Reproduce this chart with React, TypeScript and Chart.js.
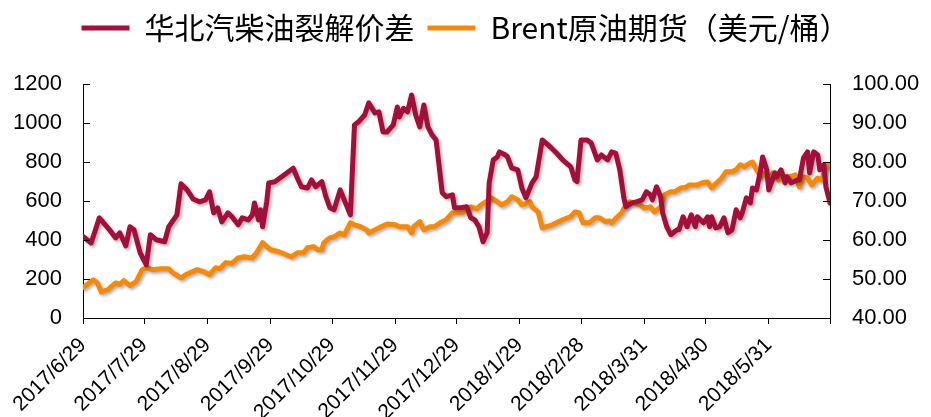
import React, { useEffect, useRef } from "react";
import { Chart, registerables } from "chart.js";

Chart.register(...registerables);

// x axis: days counted from 2017/6/29
const xTickDays = [0, 30, 61, 92, 122, 153, 183, 214, 244, 275, 305, 336, 366];
const xTickLabels = [
  "2017/6/29", "2017/7/29", "2017/8/29", "2017/9/29", "2017/10/29", "2017/11/29",
  "2017/12/29", "2018/1/29", "2018/2/28", "2018/3/31", "2018/4/30", "2018/5/31", "",
];

const crackLabel = "华北汽柴油裂解价差";
const brentLabel = "Brent原油期货（美元/桶）";

const crackDays = [
  0, 4, 8, 13, 16, 18, 21, 23, 25, 28, 31, 33, 36, 40, 42, 46, 48, 51, 54, 57, 60, 62, 64, 66, 68,
  71, 73, 76, 78, 81, 83, 84, 86, 87, 88, 90, 91, 94, 103, 105, 107, 110, 112, 114, 117, 119, 121,
  123, 126, 128, 131, 133, 135, 138, 140, 143, 145, 147, 149, 152, 154, 155, 157, 159, 161, 163,
  165, 167, 169, 171, 173, 176, 178, 181, 182, 185, 188, 190, 192, 194, 196, 198, 199, 201, 203,
  204, 207, 208, 210, 213, 215, 217, 220, 222, 225, 229, 232, 235, 239, 241, 242, 244, 247, 249,
  252, 254, 257, 259, 261, 263, 265, 266, 269, 271, 274, 276, 278, 279, 281, 283, 284, 286, 288,
  291, 292, 294, 296, 298, 300, 301, 304, 306, 307, 308, 310, 312, 314, 316, 318, 320, 322, 323,
  325, 327, 328, 330, 332, 333, 335, 336, 339, 340, 342, 344, 345, 347, 350, 351, 353, 355, 356,
  358, 360, 361, 363, 364, 366,
];
const crackValues = [
  418, 385, 514, 452, 411, 437, 370, 468, 452, 334, 273, 427, 401, 391, 468, 529, 688, 657, 610,
  596, 606, 647, 539, 565, 493, 539, 519, 478, 514, 503, 529, 590, 503, 555, 468, 596, 693, 699,
  768, 718, 673, 667, 708, 673, 699, 622, 565, 555, 657, 606, 529, 990, 1006, 1041, 1103, 1052,
  1057, 954, 954, 990, 1082, 1031, 1075, 1057, 1144, 1041, 980, 1092, 980, 939, 913, 642, 622,
  632, 565, 565, 571, 514, 503, 468, 391, 437, 693, 811, 826, 852, 836, 826, 770, 760, 667, 616,
  693, 724, 913, 877, 846, 811, 775, 708, 699, 913, 913, 897, 811, 836, 811, 852, 846, 760, 616,
  571, 590, 596, 606, 647, 632, 606, 673, 622, 539, 468, 427, 452, 452, 519, 468, 529, 468, 519,
  488, 519, 468, 519, 462, 468, 514, 437, 452, 555, 514, 539, 616, 590, 667, 657, 760, 826, 760,
  657, 744, 724, 760, 693, 724, 693, 708, 708, 821, 852, 744, 852, 836, 760, 785, 673, 590,
];

const brentDays = [
  0, 3, 5, 7, 9, 12, 16, 18, 20, 23, 26, 29, 31, 34, 38, 42, 44, 48, 51, 56, 59, 62, 65, 67, 70,
  73, 76, 79, 83, 85, 88, 90, 92, 96, 102, 105, 108, 110, 113, 115, 117, 118, 121, 123, 126, 128,
  131, 133, 136, 139, 140, 143, 146, 149, 153, 155, 159, 161, 162, 165, 167, 170, 172, 175, 178,
  181, 183, 186, 188, 190, 193, 195, 198, 200, 203, 205, 208, 210, 213, 215, 218, 219, 220, 223,
  225, 230, 235, 239, 241, 243, 245, 248, 251, 253, 256, 258, 259, 262, 264, 266, 268, 270, 273,
  275, 278, 280, 283, 285, 288, 290, 293, 295, 297, 301, 303, 306, 308, 311, 313, 315, 318, 320,
  322, 324, 327, 328, 330, 332, 333, 336, 338, 339, 341, 344, 346, 349, 351, 353, 355, 357, 360,
  362, 363, 365, 366,
];
const brentValues = [
  47.8, 49.0, 49.8, 49.0, 46.7, 47.2, 49.0, 48.6, 49.6, 48.3, 49.3, 52.4, 52.9, 52.4, 52.6, 52.6,
  51.6, 50.3, 51.3, 52.4, 51.9, 51.1, 52.9, 52.6, 54.2, 54.0, 55.4, 55.7, 55.4, 56.7, 59.3, 58.3,
  57.5, 57.0, 55.7, 56.7, 56.7, 58.0, 58.3, 57.5, 57.5, 59.3, 60.6, 60.8, 61.8, 61.3, 64.4, 63.9,
  63.4, 62.6, 61.8, 62.6, 63.4, 64.1, 63.9, 63.4, 63.4, 61.8, 63.4, 64.7, 62.6, 63.4, 63.4, 64.4,
  65.2, 67.0, 67.0, 67.0, 67.7, 68.5, 68.0, 69.0, 70.0, 70.8, 69.8, 69.0, 69.8, 71.1, 70.3, 69.0,
  69.5, 69.8, 68.5, 67.2, 63.1, 63.9, 65.2, 66.0, 67.2, 67.0, 64.4, 64.4, 65.7, 65.7, 64.7, 64.9,
  64.4, 66.0, 67.0, 69.0, 69.8, 69.5, 69.0, 68.2, 68.5, 67.2, 68.5, 71.6, 72.4, 72.4, 73.4, 73.4,
  74.1, 74.1, 74.6, 74.9, 73.4, 74.9, 75.9, 77.5, 77.5, 78.0, 79.3, 78.8, 79.8, 80.0, 78.0, 76.2,
  77.2, 75.9, 77.2, 76.2, 75.4, 76.2, 76.2, 76.7, 73.6, 76.2, 75.9, 74.1, 75.9, 75.4, 77.2, 79.3,
  78.5,
];

const RED = "#A30F3A";
const ORANGE = "#F5890A";
const TICK_FONT = "Arial, 'Liberation Sans', sans-serif";

const shadowPlugin = {
  id: "lineShadow",
  beforeDatasetDraw(chart: any) {
    const c = chart.ctx;
    c.save();
    c.shadowColor = "rgba(0,0,0,0.3)";
    c.shadowBlur = 3;
    c.shadowOffsetX = 2;
    c.shadowOffsetY = 2;
  },
  afterDatasetDraw(chart: any) {
    chart.ctx.restore();
  },
};

const innerTicksPlugin = {
  id: "innerTicks",
  afterDatasetsDraw(chart: any) {
    const c = chart.ctx;
    c.save();
    c.strokeStyle = "#000";
    c.lineWidth = 1;
    ["y", "y1"].forEach((id) => {
      const s = chart.scales[id];
      const x0 = id === "y" ? s.right : s.left;
      const x1 = id === "y" ? x0 + 7 : x0 - 7;
      s.ticks.forEach((t: any) => {
        const py = Math.round(s.getPixelForValue(t.value)) + 0.5;
        c.beginPath();
        c.moveTo(x0, py);
        c.lineTo(x1, py);
        c.stroke();
      });
    });
    c.restore();
  },
};

const legendHeightPlugin = {
  id: "legendHeight",
  beforeLayout(chart: any) {
    const lg = chart.legend;
    if (lg && !lg._patchedFit) {
      const orig = lg.fit.bind(lg);
      lg.fit = function () {
        orig();
        this.height = 84;
      };
      lg._patchedFit = true;
    }
  },
};

export default function App() {
  const ref = useRef<HTMLCanvasElement | null>(null);

  useEffect(() => {
    if (!ref.current) return;
    const crackData = crackDays.map((d, i) => ({ x: d, y: crackValues[i] }));
    const brentData = brentDays.map((d, i) => ({ x: d, y: brentValues[i] }));

    const chart = new Chart(ref.current, {
      type: "line",
      data: {
        datasets: [
          {
            label: crackLabel,
            data: crackData,
            yAxisID: "y",
            borderColor: RED,
            backgroundColor: RED,
            borderWidth: 5,
            pointRadius: 0,
            tension: 0,
            borderCapStyle: "round",
            borderJoinStyle: "round",
          },
          {
            label: brentLabel,
            data: brentData,
            yAxisID: "y1",
            borderColor: ORANGE,
            backgroundColor: ORANGE,
            borderWidth: 5,
            pointRadius: 0,
            tension: 0,
            borderCapStyle: "round",
            borderJoinStyle: "round",
          },
        ],
      },
      options: {
        animation: false,
        responsive: true,
        maintainAspectRatio: false,
        layout: { padding: 0 },
        plugins: {
          tooltip: { enabled: false },
          legend: {
            position: "top",
            align: "center",
            labels: {
              usePointStyle: true,
              pointStyle: "line",
              pointStyleWidth: 48,
              padding: 13,
              color: "#000",
              font: { size: 30, family: "'Noto Sans CJK SC', sans-serif" },
            },
          },
        },
        scales: {
          x: {
            type: "linear",
            min: 0,
            max: 366,
            afterFit(s: any) {
              s.height = 99;
            },
            afterBuildTicks(s: any) {
              s.ticks = xTickDays.map((v) => ({ value: v }));
            },
            grid: {
              display: true,
              drawOnChartArea: false,
              drawTicks: true,
              tickLength: 6,
              color: "#000",
            },
            border: { color: "#000", width: 1 },
            ticks: {
              autoSkip: false,
              maxRotation: 45,
              minRotation: 45,
              padding: 9,
              color: "#000",
              font: { size: 21, family: TICK_FONT },
              callback: (v: any) => {
                const i = xTickDays.indexOf(Number(v));
                return i >= 0 ? xTickLabels[i] : "";
              },
            },
          },
          y: {
            position: "left",
            min: 0,
            max: 1200,
            afterFit(s: any) {
              s.width = 83;
            },
            grid: { display: false, drawTicks: false },
            border: { color: "#000", width: 1 },
            ticks: {
              stepSize: 200,
              padding: 21,
              color: "#000",
              font: { size: 22, family: TICK_FONT },
              callback: (v: any) => String(v),
            },
          },
          y1: {
            position: "right",
            min: 40,
            max: 100,
            afterFit(s: any) {
              s.width = 101;
            },
            grid: { display: false, drawTicks: false },
            border: { color: "#000", width: 1 },
            ticks: {
              stepSize: 10,
              padding: 22,
              color: "#000",
              font: { size: 22, family: TICK_FONT },
              callback: (v: any) => Number(v).toFixed(2),
            },
          },
        },
      },
      plugins: [shadowPlugin, innerTicksPlugin, legendHeightPlugin],
    } as any);

    return () => chart.destroy();
  }, []);

  return (
    <div style={{ position: "fixed", left: 0, top: 0, width: 931, height: 417, background: "#fff" }}>
      <canvas ref={ref} />
    </div>
  );
}
